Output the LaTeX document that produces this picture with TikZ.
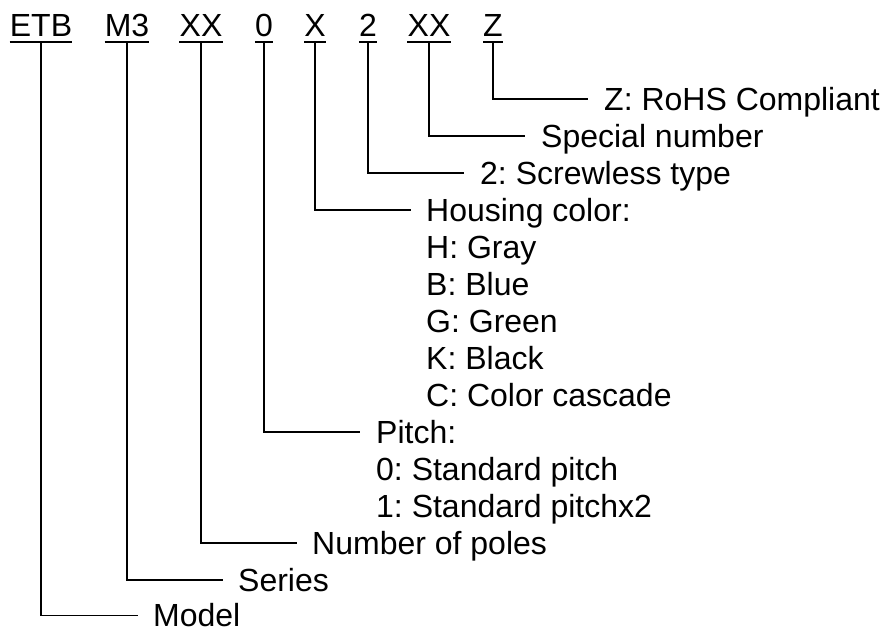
\documentclass[tikz,border=0pt]{standalone}
\usepackage{fontspec}
\setmainfont{Liberation Sans}
\begin{document}
\begin{tikzpicture}[x=1pt,y=-1pt,
  every node/.style={font=\fontsize{32}{37}\selectfont\frenchspacing},
  code/.style={anchor=base, inner xsep=0pt, inner ysep=5pt, text height=22.9pt, text depth=0pt},
  desc/.style={anchor=west, inner sep=0pt, text height=22.9pt, text depth=0pt},
  uline/.style={line width=2.6pt},
  lead/.style={line width=1.4pt}]
\useasboundingbox (0,0) rectangle (883,628);
% code letters
\node[code] (etb) at (41,37) {ETB};
\node[code] (m3)  at (127,37) {M3};
\node[code] (xx1) at (201,37) {XX};
\node[code] (p0)  at (264,37) {0};
\node[code] (x1)  at (315,37) {X};
\node[code] (t2)  at (368,37) {2};
\node[code] (xx2) at (429,37) {XX};
\node[code] (z)   at (493,37) {Z};
\foreach \n in {etb,m3,xx1,p0,x1,t2,xx2,z}
  \draw[uline] (\n.south west) -- (\n.south east);
% descriptions
\node[desc] (dz)   at (604,99)  {Z: RoHS Compliant};
\node[desc] (dsp)  at (541,136) {Special number};
\node[desc] (dscr) at (480,173) {2: Screwless type};
\node[desc] (dhc)  at (426,210) {Housing color:};
\node[desc] (dh)   at (426,247) {H: Gray};
\node[desc] (db)   at (426,284) {B: Blue};
\node[desc] (dg)   at (426,321) {G: Green};
\node[desc] (dk)   at (426,358) {K: Black};
\node[desc] (dc)   at (426,395) {C: Color cascade};
\node[desc] (dp)   at (376,432) {Pitch:};
\node[desc] (dp0)  at (376,469) {0: Standard pitch};
\node[desc] (dp1)  at (376,506) {1: Standard pitchx2};
\node[desc] (dn)   at (312,543) {Number of poles};
\node[desc] (ds)   at (238,580) {Series};
\node[desc] (dm)   at (153,615.5) {Model};
% leaders
\draw[lead] (z.south)   |- ([xshift=-16pt]dz.west);
\draw[lead] (xx2.south) |- ([xshift=-16pt]dsp.west);
\draw[lead] (t2.south)  |- ([xshift=-16pt]dscr.west);
\draw[lead] (x1.south)  |- ([xshift=-15pt]dhc.west);
\draw[lead] (p0.south)  |- ([xshift=-16pt]dp.west);
\draw[lead] (xx1.south) |- ([xshift=-15pt]dn.west);
\draw[lead] (m3.south)  |- ([xshift=-15pt]ds.west);
\draw[lead] (etb.south) |- ([xshift=-15pt]dm.west);
\end{tikzpicture}
\end{document}
